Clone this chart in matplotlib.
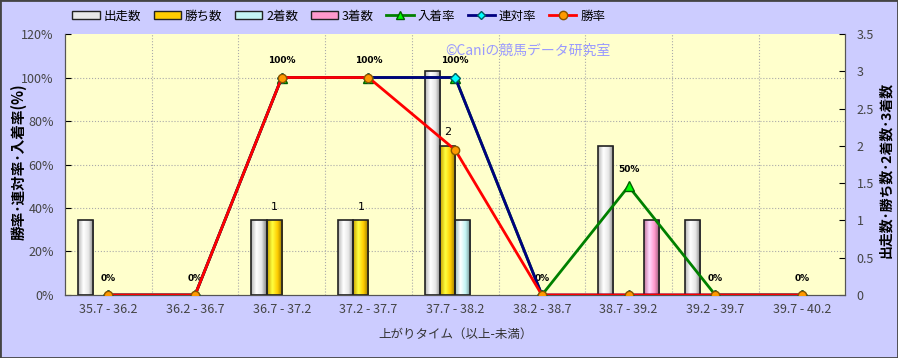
import numpy as np
import matplotlib
matplotlib.use("Agg")
import matplotlib.pyplot as plt
from matplotlib.colors import LinearSegmentedColormap, to_rgb
from matplotlib.patches import Rectangle, Patch
from matplotlib.lines import Line2D

plt.rcParams["font.family"] = ["Noto Sans CJK JP", "DejaVu Sans"]

categories = ["35.7 - 36.2", "36.2 - 36.7", "36.7 - 37.2", "37.2 - 37.7", "37.7 - 38.2",
              "38.2 - 38.7", "38.7 - 39.2", "39.2 - 39.7", "39.7 - 40.2"]
starts = [1, 0, 1, 1, 3, 0, 2, 1, 0]
wins = [0, 0, 1, 1, 2, 0, 0, 0, 0]
seconds = [0, 0, 0, 0, 1, 0, 0, 0, 0]
thirds = [0, 0, 0, 0, 0, 0, 1, 0, 0]
win_rate = [0, 0, 100, 100, 66.7, 0, 0, 0, 0]
quinella_rate = [0, 0, 100, 100, 100, 0, 0, 0, 0]
place_rate = [0, 0, 100, 100, 100, 0, 50, 0, 0]

bar_series = [("出走数", starts, "#e8e8e8"), ("勝ち数", wins, "#ffcc00"),
              ("2着数", seconds, "#c4f4f4"), ("3着数", thirds, "#ff99cc")]


def cyl_cmap(base):
    c = np.array(to_rgb(base))
    return LinearSegmentedColormap.from_list(
        "cyl", [c * 0.78, np.minimum(c + 0.25, 1), c, c * 0.55])


fig = plt.figure(figsize=(8.98, 3.58), dpi=100, facecolor="#ccccff")
fig.add_artist(Rectangle((0, 0), 1, 1, transform=fig.transFigure, fill=False,
                         edgecolor="#444444", linewidth=2))
ax = fig.add_axes([0.0724, 0.176, 0.869, 0.729])
ax.set_facecolor("#ffffcc")
ax2 = ax.twinx()

n = len(categories)
x = np.arange(n)
bw = 0.175
grad = np.linspace(0, 1, 64).reshape(1, -1)

for k, (name, vals, col) in enumerate(bar_series):
    cmap = cyl_cmap(col)
    for i, v in enumerate(vals):
        if v <= 0:
            continue
        x0 = x[i] - 2 * bw + k * bw
        rect = Rectangle((x0, 0), bw, v, facecolor="none", edgecolor="#222222",
                         linewidth=1.2, zorder=3)
        ax.add_patch(rect)
        im = ax.imshow(grad, extent=[x0, x0 + bw, 0, v], aspect="auto",
                       cmap=cmap, zorder=2, interpolation="bilinear")
        im.set_clip_path(rect)

for i, v in enumerate(wins):
    if v > 0:
        ax.annotate(str(v), (x[i] - bw / 2, v), xytext=(0, 10), textcoords="offset points",
                    ha="center", va="center", fontsize=8, family="DejaVu Sans")

ax.set_xlim(-0.5, n - 0.5)
ax.set_ylim(0, 3.5)
ax.set_yticks(np.arange(0, 3.51, 0.5))
ax.set_yticklabels(["0", "0.5", "1", "1.5", "2", "2.5", "3", "3.5"])
ax.yaxis.tick_right()
ax.yaxis.set_label_position("right")
ax.set_ylabel("出走数･勝ち数･2着数･3着数", fontsize=10, fontweight="bold")
ax.yaxis.set_label_coords(1.043, 0.48)

for p in np.arange(20, 120, 20):
    ax.axhline(p / 120 * 3.5, color="#aaaaaa", linestyle=":", linewidth=0.8, zorder=1)
for b in np.arange(0.5, n - 1, 1):
    ax.axvline(b, color="#aaaaaa", linestyle=":", linewidth=0.8, zorder=1)

ax.set_xticks(x)
ax.set_xticklabels(categories)
ax.tick_params(axis="x", length=0, pad=6, labelsize=9, labelcolor="#444444")
ax.tick_params(axis="y", direction="in", length=4, labelsize=9, labelcolor="#444444", pad=8)
ax.set_xlabel("上がりタイム（以上-未満）", fontsize=9, color="#333333", labelpad=8)

ax2.plot(x, place_rate, color="#008000", linewidth=2, marker="^", markersize=7,
         markerfacecolor="#00ff00", markeredgecolor="#006000", zorder=3)
ax2.plot(x, quinella_rate, color="#000080", linewidth=2, marker="D", markersize=5,
         markerfacecolor="#00ffff", markeredgecolor="#006060", zorder=4)
ax2.plot(x, win_rate, color="#ff0000", linewidth=2, marker="o", markersize=6,
         markerfacecolor="#ff9900", markeredgecolor="#885500", zorder=5)

for i, v in enumerate(place_rate):
    ax2.annotate(f"{v:.0f}%", (x[i], v), xytext=(0, 12), textcoords="offset points",
                 ha="center", va="center", fontsize=6.5, fontweight="bold",
                 family="DejaVu Sans")

ax2.set_ylim(0, 120)
ax2.set_yticks(np.arange(0, 121, 20))
ax2.set_yticklabels([f"{t}%" for t in range(0, 121, 20)])
ax2.yaxis.tick_left()
ax2.yaxis.set_label_position("left")
ax2.tick_params(axis="y", direction="in", length=4, labelsize=9, labelcolor="#444444", pad=8)
ax2.set_ylabel("勝率･連対率･入着率(%)", fontsize=10.5, fontweight="bold")
ax2.yaxis.set_label_coords(-0.049, 0.51)

for a in (ax, ax2):
    for s in a.spines.values():
        s.set_color("#555555")
    a.spines["top"].set_visible(False)

ax2.text(0.487, 0.935, "©Caniの競馬データ研究室", transform=ax2.transAxes, ha="left", va="center",
         fontsize=10, color="#9999ff")

handles = [Patch(facecolor=c, edgecolor="#222222", label=nm) for nm, _, c in bar_series]
handles += [
    Line2D([], [], color="#008000", lw=2, marker="^", markerfacecolor="#00ff00",
           markeredgecolor="#006000", label="入着率"),
    Line2D([], [], color="#000080", lw=2, marker="D", markersize=4,
           markerfacecolor="#00ffff", markeredgecolor="#006060", label="連対率"),
    Line2D([], [], color="#ff0000", lw=2, marker="o", markerfacecolor="#ff9900",
           markeredgecolor="#885500", label="勝率"),
]
fig.legend(handles=handles, loc="center left", bbox_to_anchor=(0.068, 0.955), ncol=7,
           frameon=False, fontsize=9, handlelength=2.2, handleheight=0.6,
           handletextpad=0.3, columnspacing=1.0)

fig.savefig("out.png", dpi=100, facecolor=fig.get_facecolor())
